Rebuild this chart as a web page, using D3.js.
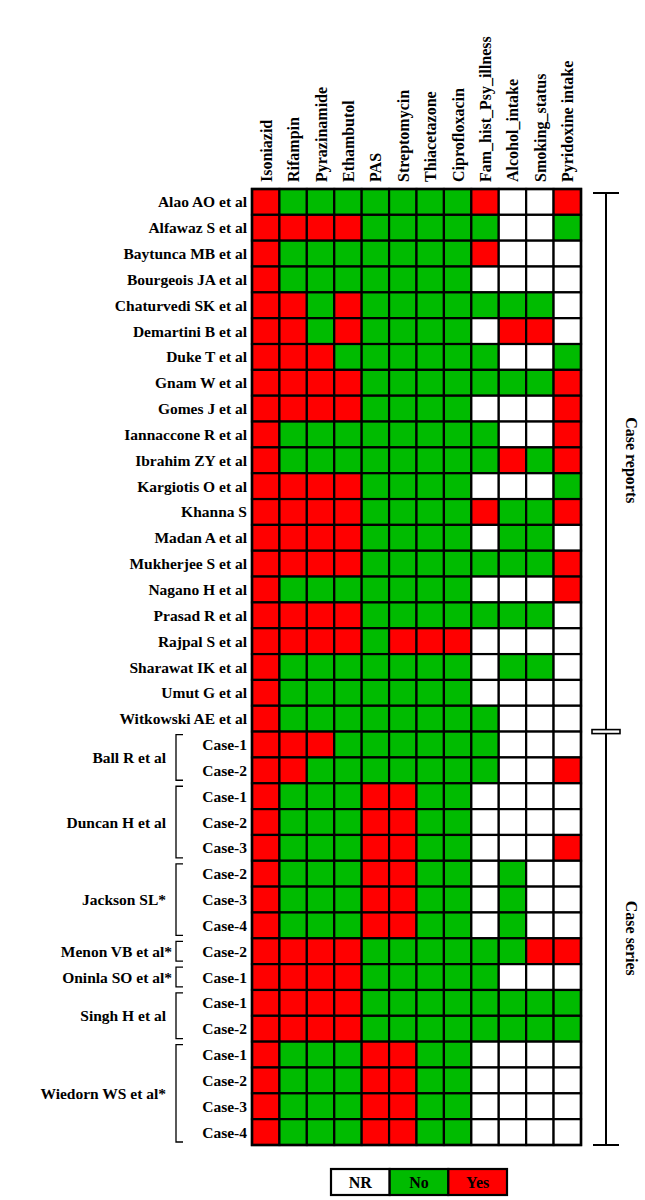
<!DOCTYPE html>
<html>
<head>
<meta charset="utf-8">
<script src="https://cdn.jsdelivr.net/npm/d3@7"></script>
<style>
body { margin: 0; background: #fff; }
text { font-family: "Liberation Serif", "Times New Roman", serif; font-weight: bold; fill: #000; }
</style>
</head>
<body>
<svg id="chart" width="645" height="1200"></svg>
<script>
const columns = ["Isoniazid", "Rifampin", "Pyrazinamide", "Ethambutol", "PAS", "Streptomycin",
    "Thiacetazone", "Ciprofloxacin", "Fam_hist_Psy_illness", "Alcohol_intake", "Smoking_status", "Pyridoxine intake"];

// Y = yes, N = no, R = not reported
const caseReports = [
    ["Alao AO et al", "YNNNNNNNYRRY"],
    ["Alfawaz S et al", "YYYYNNNNNRRN"],
    ["Baytunca MB et al", "YNNNNNNNYRRR"],
    ["Bourgeois JA et al", "YNNNNNNNRRRR"],
    ["Chaturvedi SK et al", "YYNYNNNNNNNR"],
    ["Demartini B et al", "YYNYNNNNRYYR"],
    ["Duke T et al", "YYYNNNNNNRRN"],
    ["Gnam W et al", "YYYYNNNNNNNY"],
    ["Gomes J et al", "YYYYNNNNRRRY"],
    ["Iannaccone R et al", "YNNNNNNNNRRY"],
    ["Ibrahim ZY et al", "YNNNNNNNNYNY"],
    ["Kargiotis O et al", "YYYYNNNNRRRN"],
    ["Khanna S", "YYYYNNNNYNNY"],
    ["Madan A et al", "YYYYNNNNRNNR"],
    ["Mukherjee S et al", "YYYYNNNNNNNY"],
    ["Nagano H et al", "YNNNNNNNRRRY"],
    ["Prasad R et al", "YYYYNNNNNNNR"],
    ["Rajpal S et al", "YYYYNYYYRRRR"],
    ["Sharawat IK et al", "YNNNNNNNRNNR"],
    ["Umut G et al", "YNNNNNNNRRRR"],
    ["Witkowski AE et al", "YNNNNNNNNRRR"]
];

const caseSeries = [
    ["Ball R et al", [["Case-1", "YYYNNNNNNRRR"], ["Case-2", "YYNNNNNNNRRY"]]],
    ["Duncan H et al", [["Case-1", "YNNNYYNNRRRR"], ["Case-2", "YNNNYYNNRRRR"], ["Case-3", "YNNNYYNNRRRY"]]],
    ["Jackson SL*", [["Case-2", "YNNNYYNNRNRR"], ["Case-3", "YNNNYYNNRNRR"], ["Case-4", "YNNNYYNNRNRR"]]],
    ["Menon VB et al*", [["Case-2", "YYYYNNNNNNYY"]]],
    ["Oninla SO et al*", [["Case-1", "YYYYNNNNNRRR"]]],
    ["Singh H et al", [["Case-1", "YYYYNNNNNNNN"], ["Case-2", "YYYYNNNNNNNN"]]],
    ["Wiedorn WS et al*", [["Case-1", "YNNNYYNNRRRR"], ["Case-2", "YNNNYYNNRRRR"], ["Case-3", "YNNNYYNNRRRR"], ["Case-4", "YNNNYYNNRRRR"]]]
];

const legendKeys = ["R", "N", "Y"];
const legendLabels = ["NR", "No", "Yes"];

const color = d3.scaleOrdinal().domain(["R", "N", "Y"]).range(["#ffffff", "#00bb00", "#ff0000"]);

// flatten rows
const rows = [];
caseReports.forEach(([name, v]) => rows.push({ key: name, label: name, values: v.split("") }));
caseSeries.forEach(([name, cases]) => cases.forEach(([c, v]) =>
    rows.push({ key: name + "|" + c, label: c, group: name, values: v.split("") })));

const svg = d3.select("#chart");
const gLeft = 252, gTop = 189, gRight = 581, gBottom = 1145;

const x = d3.scaleBand().domain(columns).range([gLeft, gRight]);
const y = d3.scaleBand().domain(rows.map(r => r.key)).range([gTop, gBottom]);

const cells = rows.flatMap(r => r.values.map((v, i) => ({ row: r.key, col: columns[i], v })));

svg.append("g").selectAll("rect").data(cells).join("rect")
    .attr("x", d => x(d.col)).attr("y", d => y(d.row))
    .attr("width", x.bandwidth()).attr("height", y.bandwidth())
    .attr("fill", d => color(d.v))
    .attr("stroke", "#000").attr("stroke-width", 2.2);

svg.append("rect").attr("x", gLeft).attr("y", gTop).attr("width", gRight - gLeft).attr("height", gBottom - gTop)
    .attr("fill", "none").attr("stroke", "#000").attr("stroke-width", 2.5);

// column headers
svg.append("g").selectAll("text").data(columns).join("text")
    .attr("transform", d => `translate(${x(d) + x.bandwidth() / 2 + 6},${gTop - 7}) rotate(-90)`)
    .attr("font-size", 16)
    .text(d => d);

// row labels
svg.append("g").selectAll("text").data(rows).join("text")
    .attr("x", gLeft - 5).attr("y", d => y(d.key) + y.bandwidth() / 2 + 5.5)
    .attr("text-anchor", "end").attr("font-size", 15.5)
    .text(d => d.label);

// group labels with brackets
caseSeries.forEach(([name, cases]) => {
    const y0 = y(name + "|" + cases[0][0]);
    const y1 = y(name + "|" + cases[cases.length - 1][0]) + y.bandwidth();
    const mid = (y0 + y1) / 2;
    svg.append("path")
        .attr("d", `M183,${y0 + 3}H176V${y1 - 3}H183`)
        .attr("fill", "none").attr("stroke", "#000").attr("stroke-width", 1.3);
    svg.append("text").attr("x", cases.length > 1 ? 166 : 172).attr("y", mid + 5.5)
        .attr("text-anchor", "end").attr("font-size", 15.5).text(name);
});

// right side section brackets
const splitY = y("Ball R et al|Case-1");
const bx = 606;
svg.append("path").attr("d", `M${bx - 13},${gTop + 4}H${bx + 13}M${bx},${gTop + 4}V${gBottom}M${bx - 13},${gBottom}H${bx + 13}`)
    .attr("fill", "none").attr("stroke", "#000").attr("stroke-width", 2);
svg.append("rect").attr("x", bx - 14).attr("y", splitY - 2).attr("width", 28).attr("height", 4)
    .attr("fill", "#fff").attr("stroke", "#000").attr("stroke-width", 1.6);
svg.append("text").attr("transform", `translate(${bx + 20},${(gTop + splitY) / 2}) rotate(90)`)
    .attr("text-anchor", "middle").attr("font-size", 16).text("Case reports");
svg.append("text").attr("transform", `translate(${bx + 20},${(splitY + gBottom) / 2}) rotate(90)`)
    .attr("text-anchor", "middle").attr("font-size", 16).text("Case series");

// legend
const lx = d3.scaleBand().domain(legendKeys).range([331, 507]);
const legend = svg.append("g");
legend.selectAll("rect").data(legendKeys).join("rect")
    .attr("x", d => lx(d)).attr("y", 1169).attr("width", lx.bandwidth()).attr("height", 26)
    .attr("fill", d => color(d)).attr("stroke", "#000").attr("stroke-width", 2.2);
legend.selectAll("text").data(legendKeys).join("text")
    .attr("x", d => lx(d) + lx.bandwidth() / 2).attr("y", 1188)
    .attr("text-anchor", "middle").attr("font-size", 16)
    .text((d, i) => legendLabels[i]);
</script>
</body>
</html>
